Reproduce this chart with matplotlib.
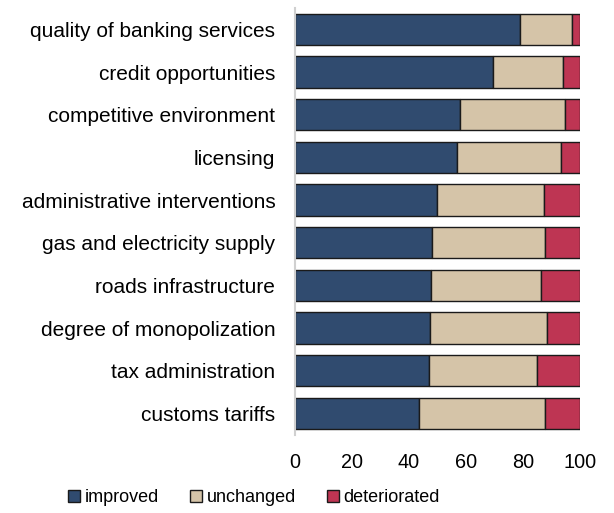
import matplotlib
matplotlib.use("Agg")
import matplotlib.pyplot as plt
import numpy as np

plt.rcParams['font.family'] = ['Liberation Sans', 'DejaVu Sans']

categories = ["quality of banking services", "credit opportunities", "competitive environment",
              "licensing", "administrative interventions", "gas and electricity supply",
              "roads infrastructure", "degree of monopolization", "tax administration",
              "customs tariffs"]
improved = [78.9, 69.4, 57.9, 57.0, 49.8, 48.1, 47.7, 47.3, 47.0, 43.7]
unchanged = [18.2, 24.5, 37.0, 36.2, 37.6, 39.7, 38.5, 41.0, 37.9, 44.1]
deteriorated = [100 - a - b for a, b in zip(improved, unchanged)]
series_names = ["improved", "unchanged", "deteriorated"]
colors = ["#304B6F", "#D5C4A8", "#BE3553"]
xticks = [0, 20, 40, 60, 80, 100]

W, H = 614, 513
fig = plt.figure(figsize=(W / 100, H / 100), dpi=100)
ax = fig.add_axes([294.7 / W, 1 - 434.7 / H, (580 - 294.7) / W, (434.7 - 8) / H])

y = np.arange(len(categories))
left = np.zeros(len(categories))
handles = []
for vals, c, name in zip([improved, unchanged, deteriorated], colors, series_names):
    b = ax.barh(y, vals, left=left, height=0.73, color=c, edgecolor="#1a1a1a",
                linewidth=1.0, label=name)
    handles.append(b)
    left = left + np.array(vals)

ax.set_ylim(len(categories) - 0.5, -0.5)
ax.set_xlim(0, 100)
ax.set_yticks(y)
ax.set_yticklabels(categories, fontsize=15)
ax.set_xticks(xticks)
ax.set_xticklabels([str(t) for t in xticks], fontsize=14.3)
ax.tick_params(axis='both', length=0)
ax.tick_params(axis='y', pad=14)
ax.tick_params(axis='x', pad=13)
for s in ["top", "right", "bottom"]:
    ax.spines[s].set_visible(False)
ax.spines["left"].set_color("#d0d0d0")
ax.spines["left"].set_linewidth(1.5)

fig.legend(handles, series_names, loc="center", bbox_to_anchor=(254 / W, 1 - 498 / H),
           ncol=3, frameon=False, fontsize=13, handlelength=0.65, handleheight=0.65,
           handletextpad=0.25, columnspacing=1.75)

fig.savefig("out.png", dpi=100)
